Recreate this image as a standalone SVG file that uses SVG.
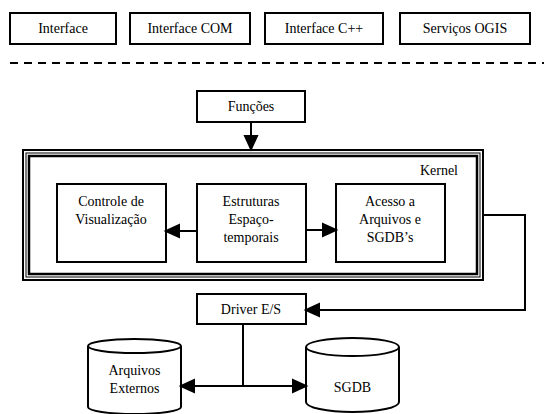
<svg xmlns="http://www.w3.org/2000/svg" width="544" height="414" viewBox="0 0 544 414">
<defs>
<polygon id="head" points="0,0 -13,-6 -13,6" fill="#000"/>
</defs>
<rect width="544" height="414" fill="#fff"/>
<g id="interface"><rect x="10" y="13" width="106" height="31" fill="#fff" stroke="#000" stroke-width="2"/><text x="63" y="33" font-family="Times New Roman" font-size="14" text-anchor="middle">Interface</text></g>
<g id="interface-com"><rect x="130" y="13" width="120" height="31" fill="#fff" stroke="#000" stroke-width="2"/><text x="190" y="33" font-family="Times New Roman" font-size="14" text-anchor="middle">Interface COM</text></g>
<g id="interface-cpp"><rect x="265" y="13" width="118" height="31" fill="#fff" stroke="#000" stroke-width="2"/><text x="324" y="33" font-family="Times New Roman" font-size="14" text-anchor="middle">Interface C++</text></g>
<g id="servicos-ogis"><rect x="400" y="13" width="130" height="31" fill="#fff" stroke="#000" stroke-width="2"/><text x="465" y="33" font-family="Times New Roman" font-size="14" text-anchor="middle">Serviços OGIS</text></g>
<line x1="10" y1="63" x2="544" y2="63" stroke="#000" stroke-width="2" stroke-dasharray="8 6"/>
<g id="funcoes"><rect x="197" y="91" width="108" height="31" fill="#fff" stroke="#000" stroke-width="2"/><text x="251" y="111" font-family="Times New Roman" font-size="14" text-anchor="middle">Funções</text></g>
<g id="kernel">
<rect x="23" y="150" width="460" height="130" fill="#fff" stroke="#000" stroke-width="2"/>
<rect x="26" y="153" width="454" height="124" fill="none" stroke="#000" stroke-width="1"/>
<rect x="29" y="156" width="448" height="118" fill="none" stroke="#000" stroke-width="2.5"/>
<text x="458" y="175" font-family="Times New Roman" font-size="14" text-anchor="end">Kernel</text>
</g>
<g id="controle"><rect x="57" y="184" width="109" height="78" fill="#fff" stroke="#000" stroke-width="2"/><text x="111" y="206" font-family="Times New Roman" font-size="14" text-anchor="middle">Controle de</text><text x="111" y="224" font-family="Times New Roman" font-size="14" text-anchor="middle">Visualização</text></g>
<g id="estruturas"><rect x="197" y="184" width="109" height="78" fill="#fff" stroke="#000" stroke-width="2"/><text x="251" y="206" font-family="Times New Roman" font-size="14" text-anchor="middle">Estruturas</text><text x="251" y="224" font-family="Times New Roman" font-size="14" text-anchor="middle">Espaço-</text><text x="251" y="242" font-family="Times New Roman" font-size="14" text-anchor="middle">temporais</text></g>
<g id="acesso"><rect x="336" y="184" width="109" height="78" fill="#fff" stroke="#000" stroke-width="2"/><text x="390" y="206" font-family="Times New Roman" font-size="14" text-anchor="middle">Acesso a</text><text x="390" y="224" font-family="Times New Roman" font-size="14" text-anchor="middle">Arquivos e</text><text x="390" y="242" font-family="Times New Roman" font-size="14" text-anchor="middle">SGDB’s</text></g>
<g id="driver"><rect x="197" y="294" width="109" height="30" fill="#fff" stroke="#000" stroke-width="2"/><text x="251" y="314" font-family="Times New Roman" font-size="14" text-anchor="middle">Driver E/S</text></g>
<g id="arquivos-externos">
<path d="M88,346 V407 A46.5,7 0 0 0 181,407 V346" fill="#fff" stroke="#000" stroke-width="2"/>
<ellipse cx="134.5" cy="346" rx="46.5" ry="7" fill="#fff" stroke="#000" stroke-width="2"/>
<text x="134.5" y="375" font-family="Times New Roman" font-size="14" text-anchor="middle">Arquivos</text><text x="134.5" y="393" font-family="Times New Roman" font-size="14" text-anchor="middle">Externos</text>
</g>
<g id="sgdb">
<path d="M306,347 V402 A46.5,10 0 0 0 399,402 V347" fill="#fff" stroke="#000" stroke-width="2"/>
<ellipse cx="352.5" cy="347" rx="46.5" ry="9" fill="#fff" stroke="#000" stroke-width="2"/>
<text x="352.5" y="392" font-family="Times New Roman" font-size="14" text-anchor="middle">SGDB</text>
</g>
<g id="connectors" fill="none" stroke="#000" stroke-width="2">
<line x1="251" y1="122" x2="251" y2="137"/><use href="#head" transform="translate(251,149) rotate(90)"/>
<line x1="197" y1="231" x2="178" y2="231"/><use href="#head" transform="translate(166,231) rotate(180)"/>
<line x1="306" y1="230" x2="324" y2="230"/><use href="#head" transform="translate(336,230)"/>
<path d="M483,215 H525 V310 H318"/><use href="#head" transform="translate(306,310) rotate(180)"/>
<line x1="243" y1="324" x2="243" y2="386"/>
<line x1="193" y1="386" x2="294" y2="386"/>
<use href="#head" transform="translate(181,386) rotate(180)"/>
<use href="#head" transform="translate(306,386)"/>
</g>
</svg>
